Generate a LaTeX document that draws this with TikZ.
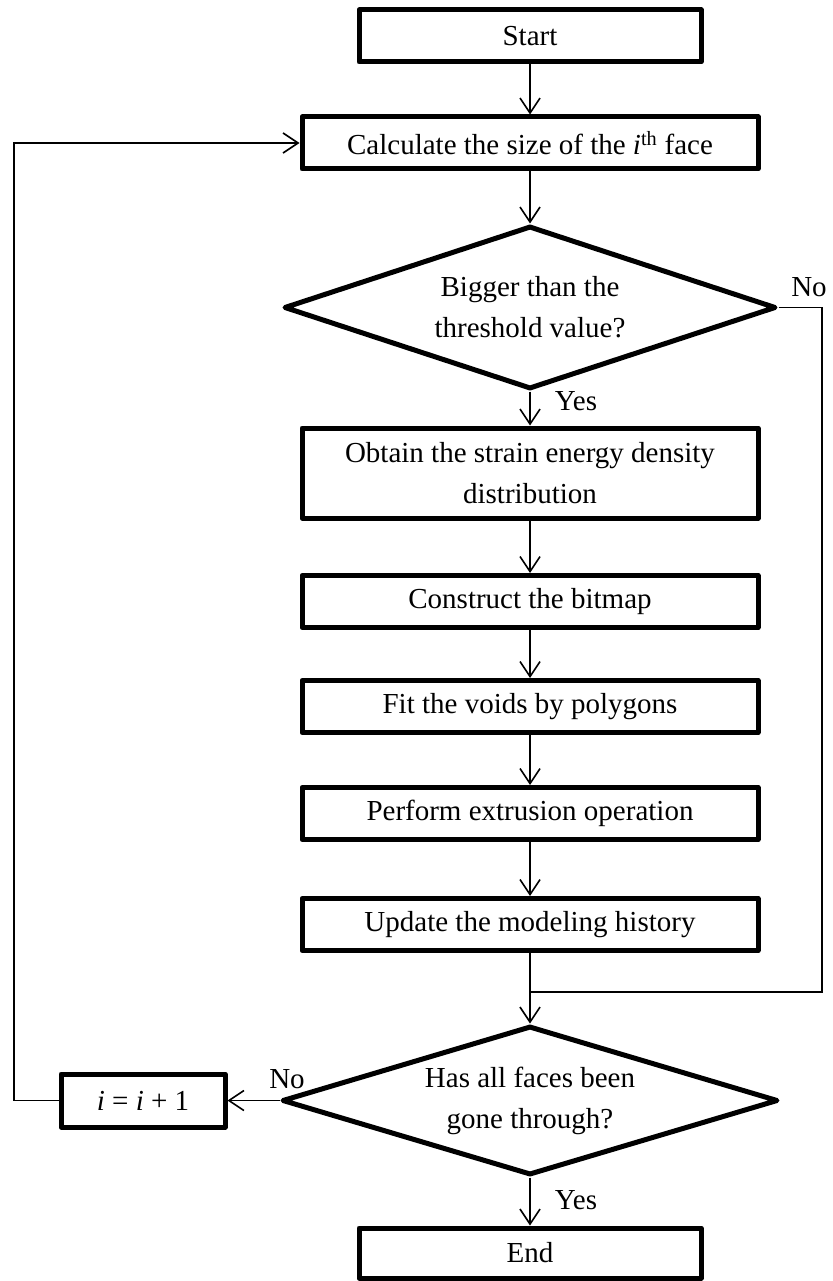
\documentclass[tikz,border=0pt]{standalone}
\usepackage{fontspec}
\setmainfont{Liberation Serif}
\usetikzlibrary{shapes.geometric,arrows.meta}
\begin{document}
\begin{tikzpicture}[x=1pt,y=-1pt,
  every node/.style={font=\fontsize{29}{41}\selectfont},
  procbox/.style={draw, line width=5pt, line join=round, rectangle, minimum width=456pt, minimum height=52pt, inner sep=0pt, align=center},
  termbox/.style={procbox, minimum width=342pt},
  decide/.style={draw, line width=5pt, line join=round, diamond, inner sep=0pt, aspect=3, align=center},
  conn/.style={line width=1.6pt, -{Straight Barb[length=15pt,width=20pt]}},
  plain/.style={line width=1.6pt},
  lbl/.style={anchor=base, inner sep=0pt}
]
\useasboundingbox (0,0) rectangle (832,1281);
\node[termbox] (start) at (530,36) {Start};
\node[procbox] (calc) at (530,143) {Calculate the size of the \textit{i}\textsuperscript{th} face};
\node[decide, minimum width=492pt, minimum height=163pt] (d1) at (530,307.5) {Bigger than the\\threshold value?};
\node[procbox, minimum height=90pt] (obtain) at (530,473) {Obtain the strain energy density\\distribution};
\node[procbox] (construct) at (530,601.5) {Construct the bitmap};
\node[procbox] (fit) at (530,706.5) {Fit the voids by polygons};
\node[procbox] (perform) at (530,813.5) {Perform extrusion operation};
\node[procbox] (update) at (530,924.5) {Update the modeling history};
\node[decide, minimum width=496pt, minimum height=149pt] (d2) at (530,1100.5) {Has all faces been\\gone through?};
\node[procbox, minimum width=164pt, minimum height=53pt] (inc) at (143,1100.5) {\textit{i} = \textit{i} + 1};
\node[termbox, minimum height=50pt] (end) at (530,1253) {End};
\coordinate (merge) at (530,992);
\coordinate (rtop) at (822,307.5);
\coordinate (ltop) at (14,1100.5);
\draw[conn] (start) -- (calc);
\draw[conn] (calc) -- (d1);
\draw[conn] (d1) -- (obtain);
\draw[conn] (obtain) -- (construct);
\draw[conn] (construct) -- (fit);
\draw[conn] (fit) -- (perform);
\draw[conn] (perform) -- (update);
\draw[conn] (update) -- (d2);
\draw[conn] (d2) -- (end);
\draw[conn] (d2.west) -- (inc.east);
\draw[plain] (d1.east) -- (rtop) |- (merge);
\draw[conn] (inc.west) -- (ltop) |- (calc.west);
\node[lbl] (no1) at (809,296) {No};
\node[lbl] (yes1) at (576,410) {Yes};
\node[lbl] (no2) at (287,1088) {No};
\node[lbl] (yes2) at (576,1209) {Yes};
\end{tikzpicture}
\end{document}
